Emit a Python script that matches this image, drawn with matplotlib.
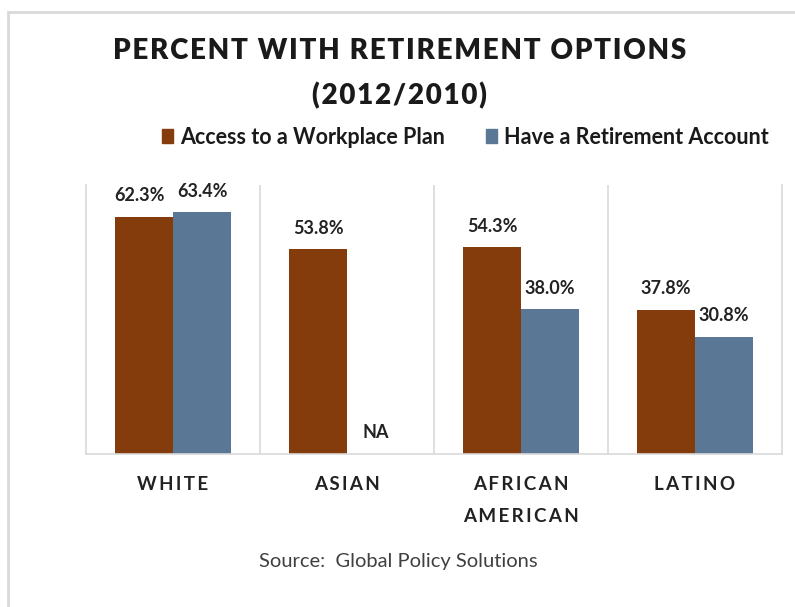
import matplotlib
matplotlib.use("Agg")
import matplotlib.pyplot as plt
from matplotlib.patches import Rectangle, Patch

plt.rcParams['font.family'] = ['Lato', 'DejaVu Sans']

# data
groups = ['WHITE', 'ASIAN', 'AFRICAN\nAMERICAN', 'LATINO']
workplace_plan = [62.3, 53.8, 54.3, 37.8]
retirement_account = [63.4, None, 38.0, 30.8]
series_names = ['Access to a Workplace Plan', 'Have a Retirement Account']

orange = '#843C0C'
blue = '#5A7795'
grid_gray = '#d9d9d9'


def spaced(s, gap='\u2009'):
    # fake letter spacing
    return '\n'.join(gap.join(line) for line in s.split('\n'))


fig = plt.figure(figsize=(7.95, 6.07), dpi=100)
ax = fig.add_axes([86 / 795, 153 / 607, 696 / 795, 269 / 607])

w = 1 / 3
x = list(range(len(groups)))
lbl = dict(ha='center', va='bottom', fontsize=13, fontweight='bold', color='#222222',
           textcoords='offset points')

for i, v in enumerate(workplace_plan):
    ax.bar(i - w / 2, v, width=w, color=orange)
    dx = -3 if i == 0 else 0  # excel nudges the crowded label a bit
    ax.annotate(f'{v:.1f}%', (i - w / 2, v), xytext=(dx, 9), **lbl)

for i, v in enumerate(retirement_account):
    if v is None:
        ax.annotate('NA', (i + w / 2, 0), xytext=(0, 9), **lbl)
        continue
    ax.bar(i + w / 2, v, width=w, color=blue)
    ax.annotate(f'{v:.1f}%', (i + w / 2, v), xytext=(0, 9), **lbl)

ax.set_xlim(-0.5, 3.5)
ax.set_ylim(0, 70.6)
for sep in [0.5, 1.5, 2.5]:
    ax.axvline(sep, color=grid_gray, lw=1.2, zorder=0)
for side in ['left', 'right', 'bottom']:
    ax.spines[side].set_color(grid_gray)
    ax.spines[side].set_linewidth(1.2)
ax.spines['top'].set_visible(False)
ax.set_yticks([])
ax.set_xticks(x)
ax.set_xticklabels([spaced(g) for g in groups], fontsize=13.5, fontweight='bold',
                   color='#222222', linespacing=2.1)
ax.tick_params(axis='x', length=0, pad=15.5)

title_gap = '\u200a'
fig.text(0.503, 1 - 51 / 607, spaced('PERCENT WITH RETIREMENT OPTIONS', title_gap),
         ha='center', va='center', fontsize=20, fontweight='heavy', color='#1a1a1a')
fig.text(0.503, 1 - 96 / 607, spaced('(2012/2010)', title_gap),
         ha='center', va='center', fontsize=20, fontweight='heavy', color='#1a1a1a')

handles = [Patch(color=orange), Patch(color=blue)]
leg = fig.legend(handles, series_names, loc='center', bbox_to_anchor=(0.585, 1 - 137 / 607),
                 ncol=2, frameon=False, handlelength=0.55, handleheight=0.6, handletextpad=0.3,
                 columnspacing=1.9, prop={'size': 15.5, 'weight': 'bold'})
for t in leg.get_texts():
    t.set_color('#1a1a1a')

fig.text(0.501, 1 - 561 / 607, 'Source:  Global Policy Solutions', ha='center', va='center',
         fontsize=14.5, color='#404040')

fig.patches.append(Rectangle((8 / 795, -0.1), 1.2, (607 - 12) / 607 + 0.1,
                             transform=fig.transFigure, fill=False, ec=grid_gray, lw=2))

fig.savefig('out.png', dpi=100)
